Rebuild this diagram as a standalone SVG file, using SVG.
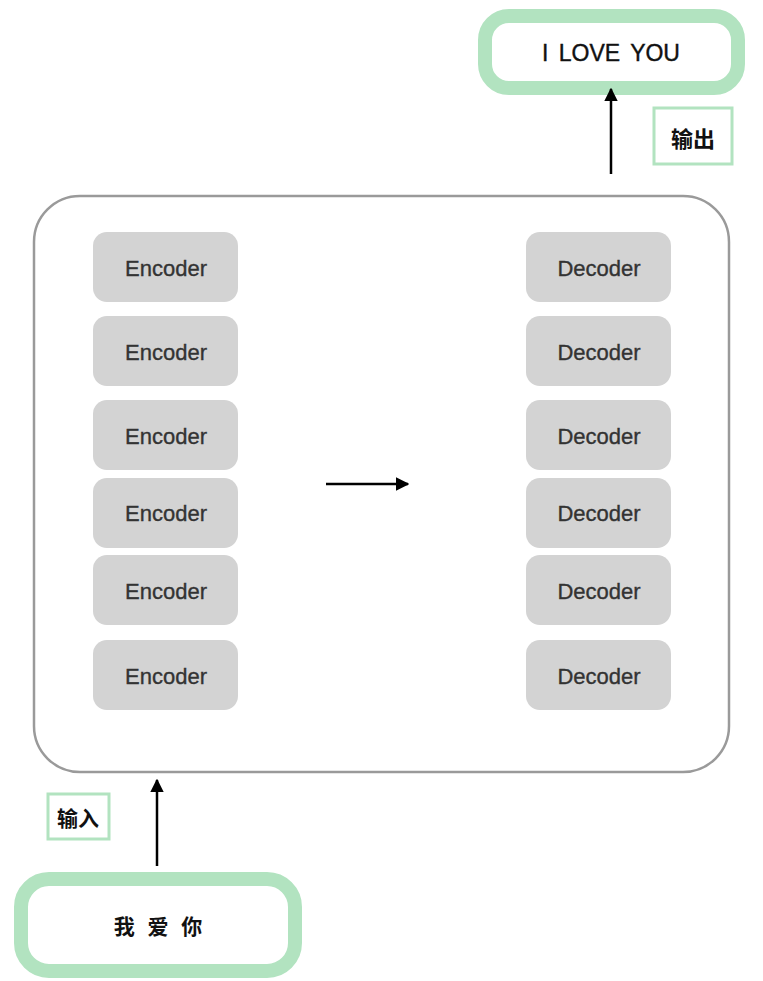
<svg xmlns="http://www.w3.org/2000/svg" width="763" height="981" viewBox="0 0 763 981">
<style>
.blk{fill:#d3d3d3;stroke:none}
.bt{font-family:"Liberation Sans",Arial,sans-serif;font-size:22px;fill:#333;stroke:#333;stroke-width:0.35;text-anchor:middle;dominant-baseline:central}
.io{fill:#fff;stroke:#b2e3c0;stroke-width:14}
.lbl{fill:#fff;stroke:#b2e3c0;stroke-width:3}
.cjk{font-family:"Noto Sans CJK SC","Noto Sans",sans-serif;font-weight:bold;fill:#111;text-anchor:middle;dominant-baseline:central}
.conn{stroke:#000;stroke-width:2.5;fill:none}
</style>
<defs>
<marker id="ah" viewBox="0 0 10 10" refX="9" refY="5" markerWidth="5.5" markerHeight="5.5" orient="auto" markerUnits="strokeWidth">
<path d="M0,0 L10,5 L0,10 z" fill="#000"/>
</marker>
</defs>
<rect width="763" height="981" fill="#fff"/>
<g id="container">
<rect x="34" y="196" width="695" height="576" rx="46" fill="#fff" stroke="#9a9a9a" stroke-width="2.5"/>
</g>
<g id="enc1"><rect class="blk" x="93" y="232" width="145" height="70" rx="14"/><text class="bt" x="166" y="268">Encoder</text></g>
<g id="enc2"><rect class="blk" x="93" y="316" width="145" height="70" rx="14"/><text class="bt" x="166" y="352">Encoder</text></g>
<g id="enc3"><rect class="blk" x="93" y="400" width="145" height="70" rx="14"/><text class="bt" x="166" y="436">Encoder</text></g>
<g id="enc4"><rect class="blk" x="93" y="478" width="145" height="70" rx="14"/><text class="bt" x="166" y="513">Encoder</text></g>
<g id="enc5"><rect class="blk" x="93" y="555" width="145" height="70" rx="14"/><text class="bt" x="166" y="591">Encoder</text></g>
<g id="enc6"><rect class="blk" x="93" y="640" width="145" height="70" rx="14"/><text class="bt" x="166" y="676">Encoder</text></g>
<g id="dec1"><rect class="blk" x="526" y="232" width="145" height="70" rx="14"/><text class="bt" x="599" y="268">Decoder</text></g>
<g id="dec2"><rect class="blk" x="526" y="316" width="145" height="70" rx="14"/><text class="bt" x="599" y="352">Decoder</text></g>
<g id="dec3"><rect class="blk" x="526" y="400" width="145" height="70" rx="14"/><text class="bt" x="599" y="436">Decoder</text></g>
<g id="dec4"><rect class="blk" x="526" y="478" width="145" height="70" rx="14"/><text class="bt" x="599" y="513">Decoder</text></g>
<g id="dec5"><rect class="blk" x="526" y="555" width="145" height="70" rx="14"/><text class="bt" x="599" y="591">Decoder</text></g>
<g id="dec6"><rect class="blk" x="526" y="640" width="145" height="70" rx="14"/><text class="bt" x="599" y="676">Decoder</text></g>
<g id="output">
<rect class="io" x="485" y="16" width="253" height="72" rx="24"/>
<text x="611" y="53" font-family="'Liberation Sans',Arial,sans-serif" font-size="23" fill="#111" stroke="#111" stroke-width="0.4" text-anchor="middle" dominant-baseline="central" word-spacing="4">I LOVE YOU</text>
</g>
<g id="label-out">
<rect class="lbl" x="654" y="108" width="78" height="56"/>
<text class="cjk" x="693" y="137" font-size="22">输出</text>
</g>
<g id="input">
<rect class="io" x="21" y="879" width="274" height="92" rx="28"/>
<text class="cjk" x="158" y="925" font-size="21" word-spacing="8">我 爱 你</text>
</g>
<g id="label-in">
<rect class="lbl" x="48" y="794" width="61" height="45"/>
<text class="cjk" x="78" y="817" font-size="21">输入</text>
</g>
<g id="connectors">
<line class="conn" x1="611" y1="174" x2="611" y2="89" marker-end="url(#ah)"/>
<line class="conn" x1="157" y1="866" x2="157" y2="780" marker-end="url(#ah)"/>
<line class="conn" x1="326" y1="484" x2="408" y2="484" marker-end="url(#ah)"/>
</g>
</svg>
